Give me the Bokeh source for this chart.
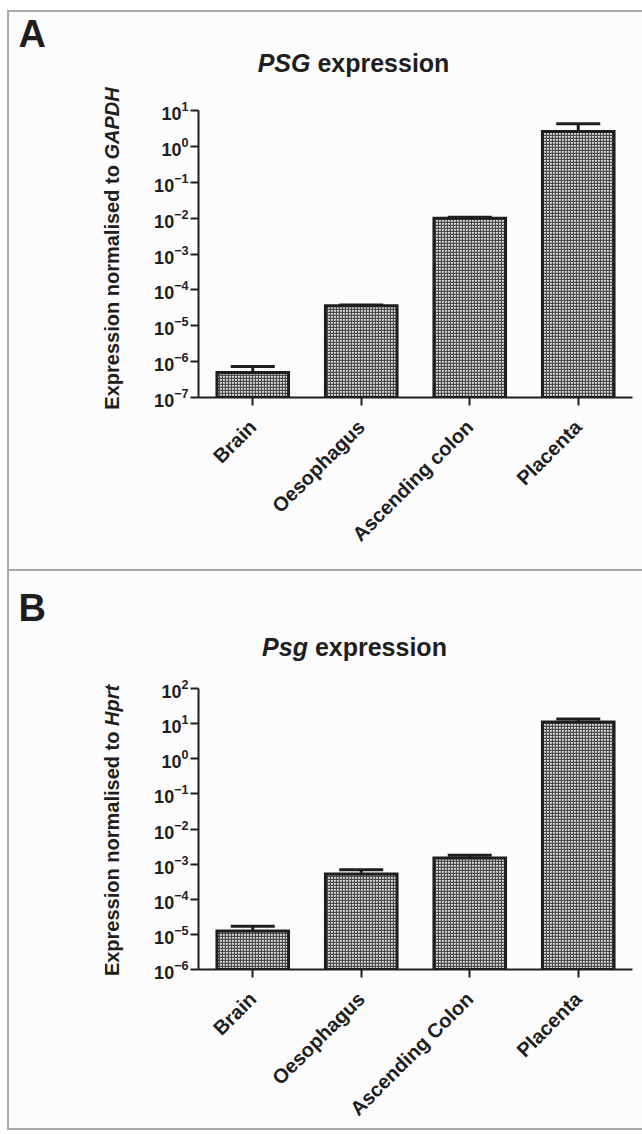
import math
from bokeh.plotting import figure
from bokeh.models import ColumnDataSource, FactorRange, Range1d, FixedTicker, Label, Whisker, TeeHead
from bokeh.layouts import column
from bokeh.embed import file_html
from bokeh.resources import INLINE

# ---------------- data ----------------
cats_A = ["Brain", "Oesophagus", "Ascending colon", "Placenta"]
vals_A = [5.0e-7, 3.6e-5, 1.0e-2, 2.6]
upper_A = [7.3e-7, 3.8e-5, 1.05e-2, 4.3]

cats_B = ["Brain", "Oesophagus", "Ascending Colon", "Placenta"]
vals_B = [1.25e-5, 5.2e-4, 1.5e-3, 11.2]
upper_B = [1.7e-5, 6.9e-4, 1.8e-3, 13.6]

exp_A = list(range(-7, 2))   # 10^-7 .. 10^1
exp_B = list(range(-6, 3))   # 10^-6 .. 10^2

FONT = "Liberation Sans"
INK = "#1e1e1e"
BG = "#fcfcfc"
EDGE = "#a8a8a8"
K = 0.37   # baseline correction (fraction of font size)

EM = {"E": .667, "x": .556, "p": .611, "r": .389, "e": .556, "s": .556, "i": .278,
      "o": .611, "n": .611, " ": .278, "m": .889, "a": .556, "l": .278, "d": .611,
      "t": .333, "G": .778, "A": .722, "P": .667, "D": .722, "H": .722, "S": .667,
      "g": .611, "c": .556, "h": .611, "u": .611, "C": .722, "B": .722}


def width(txt, size):
    return sum(EM.get(ch, .6) for ch in txt) * size


def lab(p, side, x, y, text, size, style="bold", angle=0.0):
    p.add_layout(Label(x=x, y=y, x_units="canvas", y_units="canvas", text=text,
                       text_font=FONT, text_font_size=f"{size}px", text_font_style=style,
                       text_color=INK, text_align="left", text_baseline="alphabetic",
                       angle=angle), side)


def panel(letter, gene, cats, vals, upper, exps, ref_gene, H, min_top, min_bottom,
          margin, shadow, letter_xy, title_xy, ylab_xy):
    p = figure(width=635, height=H, x_range=FactorRange(factors=cats),
               y_range=Range1d(10.0 ** exps[0], 10.0 ** exps[-1]), y_axis_type="log",
               output_backend="svg", toolbar_location=None,
               min_border_left=191, min_border_right=10,
               min_border_top=min_top, min_border_bottom=min_bottom,
               background_fill_color=None, border_fill_color=None, margin=margin)
    p.styles = {"background-color": BG, "box-shadow": shadow}
    p.outline_line_color = None
    p.grid.visible = False

    src = ColumnDataSource(dict(cat=cats, val=vals, up=upper))
    p.vbar(x="cat", top="val", bottom=10.0 ** exps[0], width=0.66, source=src,
           fill_color="#e4e4e4", hatch_pattern="cross", hatch_scale=3,
           hatch_weight=1.3, hatch_color="#4a4a4a",
           line_color=INK, line_width=3, line_join="miter")
    p.add_layout(Whisker(source=src, base="cat", lower="val", upper="up",
                         dimension="height", line_color=INK, line_width=3,
                         lower_head=None,
                         upper_head=TeeHead(size=44, line_width=3, line_color=INK)))

    # axes
    for ax in (p.xaxis[0], p.yaxis[0]):
        ax.axis_line_width = 2
        ax.axis_line_color = INK
        ax.major_tick_line_width = 2
        ax.major_tick_line_color = INK
        ax.major_tick_in = 0
        ax.minor_tick_line_color = None
        ax.major_label_text_font = FONT
        ax.major_label_text_font_style = "bold"
        ax.major_label_text_color = INK
    p.xaxis.major_tick_out = 8
    p.xaxis.major_label_text_font_size = "20px"
    p.xaxis.major_label_orientation = math.pi / 4
    p.xaxis.major_label_standoff = 18
    p.yaxis.major_tick_out = 8
    p.yaxis.major_label_text_font_size = "18px"
    p.yaxis.major_label_standoff = 2
    p.yaxis.ticker = FixedTicker(ticks=[10.0 ** k for k in exps])

    # panel letter
    ls = 38
    lab(p, "left", letter_xy[0], letter_xy[1] - K * ls, letter, ls)
    # title: italic gene + " expression"
    ts = 25
    cx, by = title_xy
    w_it = width(gene, ts)
    w_rest = width(" expression", ts)
    start = cx - (w_it + w_rest) / 2
    lab(p, "above", start, by - K * ts, gene, ts, style="bold italic")
    lab(p, "above", start + w_it + width(" ", ts), by - K * ts, "expression", ts)
    # y label (rotated): "Expression normalised to " + italic ref gene
    ys = 20
    bx, cy = ylab_xy
    bx = bx - K * ys
    t1 = "Expression normalised to"
    w1 = width(t1, ys)
    gap = width(" ", ys)
    w2 = width(ref_gene, ys)
    s0 = cy + (w1 + gap + w2) / 2
    lab(p, "left", bx, s0, t1, ys, angle=math.pi / 2)
    lab(p, "left", bx, s0 - w1 - gap, ref_gene, ys, style="bold italic", angle=math.pi / 2)
    return p


pA = panel("A", "PSG", cats_A, vals_A, upper_A, exp_A, "GAPDH", H=561,
           min_top=100, min_bottom=174, margin=(10, 0, 0, 7),
           shadow=f"inset 2px 2px 0 {EDGE}, inset 0 -2px 0 {EDGE}",
           letter_xy=(11, 38), title_xy=(346, 62), ylab_xy=(112, 238))
pB = panel("B", "Psg", cats_B, vals_B, upper_B, exp_B, "Hprt", H=559,
           min_top=117, min_bottom=157, margin=(0, 0, 0, 7),
           shadow=f"inset 2px 0 0 {EDGE}, inset 0 -2px 0 {EDGE}",
           letter_xy=(11, 51), title_xy=(347, 85), ylab_xy=(112, 259))

layout = column(pA, pB, spacing=0)
open("out.html", "w").write(file_html(layout, INLINE))
